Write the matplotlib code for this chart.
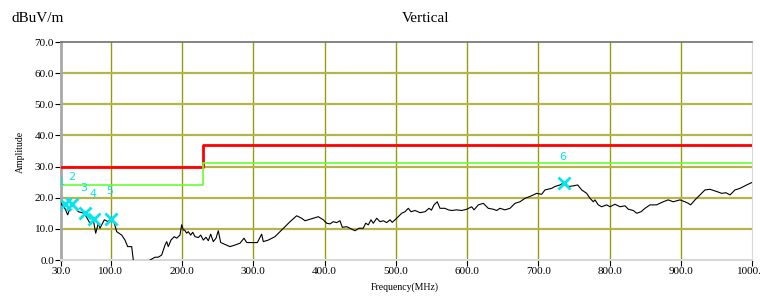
import matplotlib
matplotlib.use('Agg')
import matplotlib.pyplot as plt

plt.rcParams['font.family'] = ['Liberation Serif', 'DejaVu Serif']

# measured trace (MHz, dBuV/m)
freq = [30, 31, 35.6, 39.4, 45, 54.3, 62.7, 70.7, 75.3, 78.7, 82.4, 84.7, 90.8, 96.4, 100.2,
        104.8, 108.2, 115.2, 119.8, 123.6, 129.2, 131.5, 136, 142, 148, 155, 162, 166.6,
        171.3, 176, 178.4, 180.6, 184.4, 189, 192.4, 197, 199.4, 201.7, 203.6, 206.4, 208.7,
        212, 214.9, 218.1, 222.8, 226.1, 229.8, 233.5, 236.8, 240.1, 243.8, 247.6, 250.8,
        254.2, 260.2, 267.2, 274.2, 281.3, 286.9, 290.7, 297.7, 305.6, 311.7, 314, 321,
        330.4, 337.4, 344.4, 351.5, 360.8, 367.9, 372.5, 379.5, 391.2, 398.2, 403, 407.6,
        412.2, 417, 421.6, 424.9, 431, 438.1, 442.7, 448.3, 454.3, 457.7, 461.4, 465.2,
        468.4, 473.2, 477.8, 482.4, 487.2, 491.8, 495, 501.2, 508.2, 512.9, 517.5, 521.3,
        526.9, 534, 541, 546.6, 550, 553.6, 558.2, 562, 569, 573.7, 578.4, 585.5, 592.5,
        599.5, 606.5, 609.8, 615.8, 622.8, 629.8, 636.8, 641.6, 646.2, 653.2, 660.3, 667.3,
        674.3, 681.3, 688.3, 697.7, 704.7, 709.4, 718.8, 723.4, 730.4, 736.5, 742.1, 749.1,
        755.3, 760.9, 767.9, 772.6, 777.2, 779.6, 784.2, 789, 796, 800.6, 807.7, 814.7,
        821.7, 826.4, 833.4, 838.2, 844.2, 849.8, 856.8, 866, 875.4, 882.4, 889.4, 898.9,
        905.9, 910.5, 913.9, 920, 927, 934, 941, 950.4, 957.5, 963.5, 969.1, 976.1, 983.1,
        992.5, 1000]
level = [18.5, 17.7, 16.5, 14.5, 18.2, 15.5, 15.0, 11.8, 12.9, 8.6, 11.8, 10.2, 12.9, 12.3, 13.7,
         11.8, 9.1, 8.0, 6.4, 4.3, 4.3, 0.0, -2.0, -3.0, -1.0, 0.0, 0.9, 0.9,
         1.6, 4.8, 5.9, 4.3, 6.4, 7.5, 7.0, 8.0, 11.3, 9.6, 9.6, 8.6, 9.1,
         8.0, 8.9, 7.5, 7.2, 8.0, 6.4, 7.3, 6.2, 8.3, 5.9, 7.0, 9.4,
         5.6, 5.0, 4.3, 4.8, 5.4, 7.0, 5.6, 5.6, 5.6, 8.3, 5.9, 6.4,
         7.5, 9.1, 10.7, 12.3, 14.2, 13.4, 12.6, 13.1, 13.9, 12.9, 11.8, 11.6,
         12.3, 12.0, 12.6, 10.5, 10.7, 9.9, 9.4, 10.2, 10.2, 11.8, 11.3, 12.9,
         11.8, 13.4, 12.3, 12.6, 12.0, 12.9, 12.1, 13.4, 15.0, 15.5, 16.6, 15.5,
         15.9, 15.2, 15.5, 16.6, 16.0, 17.7, 18.7, 16.6, 16.6, 16.1, 15.9, 16.1, 15.9,
         16.3, 17.1, 16.1, 17.7, 18.2, 16.6, 16.3, 15.9, 16.6, 16.1, 16.6, 18.2,
         18.7, 19.8, 20.4, 21.4, 21.1, 22.5, 23.0, 23.6, 24.1, 24.9, 23.6, 23.8,
         24.1, 22.5, 21.4, 19.8, 18.7, 19.3, 17.7, 17.1, 17.7, 17.1, 17.9, 17.1,
         17.4, 16.3, 15.9, 15.0, 15.5, 16.6, 17.7, 17.7, 18.7, 19.3, 18.7, 19.3,
         18.7, 18.2, 17.7, 19.3, 20.9, 22.5, 22.7, 22.0, 21.4, 21.6, 20.9, 22.5, 23.0,
         24.1, 24.9]

limit_freq = [30, 230, 1000]
limit_red = [30, 37, 37]
limit_green = [24, 31, 31]

mark_freq = [35.6, 45, 63.7, 76.8, 100, 736.5]
mark_level = [18.1, 18.1, 15.1, 13.1, 13.3, 24.7]
label_freq = [30, 45, 62, 75, 98, 734]
label_level = [25, 26.5, 23.1, 21.3, 22.1, 33.2]
label_text = ['1', '2', '3', '4', '5', '6']

xticks = [30, 100, 200, 300, 400, 500, 600, 700, 800, 900, 1000]
yticks = [0, 10, 20, 30, 40, 50, 60, 70]

fig = plt.figure(figsize=(7.6, 2.96), dpi=100)
ax = fig.add_axes([61/760, 1 - 260/296, (752 - 61)/760, (260 - 42)/296])

for t in xticks[1:-1]:
    ax.axvline(t, color='#9a9a10', lw=1.0, zorder=1)
for t in yticks[1:-1]:
    ax.axhline(t, color='#b4b448', lw=1.6, zorder=1)

ax.step(limit_freq, limit_red, where='post', color='#ff0000', lw=2.0, zorder=3)
ax.step(limit_freq, limit_green, where='post', color='#66ff33', lw=1.2, zorder=3)
ax.plot(freq, level, color='black', lw=0.8, zorder=4)
ax.plot(mark_freq, mark_level, 'x', color='#00e5ee', ms=8, mew=2, zorder=5)
for fx, fy, s in zip(label_freq, label_level, label_text):
    ax.text(fx, fy, s, color='#00e5ee', fontsize=8, ha='center', va='center',
            family='DejaVu Sans', zorder=5, clip_on=True)

ax.set_xlim(30, 1000)
ax.set_ylim(0, 70)
ax.set_xticks(xticks)
ax.set_xticklabels(['%.1f' % t for t in xticks])
ax.set_yticks(yticks)
ax.set_yticklabels(['%.1f' % t for t in yticks])
ax.tick_params(labelsize=8, length=4, width=0.8, color='black', pad=1)

ax.spines['left'].set_color('#a8a8a8')
ax.spines['left'].set_linewidth(2)
ax.spines['top'].set_color('#707070')
ax.spines['top'].set_linewidth(1.2)
ax.spines['right'].set_color('#d8d8d8')
ax.spines['bottom'].set_color('#d8d8d8')
ax.spines['bottom'].set_linewidth(1.5)

fig.text(12/760, 1 - 19/296, 'dBuV/m', fontsize=11, ha='left', va='center')
fig.text(426/760, 1 - 19/296, 'Vertical', fontsize=11, ha='center', va='center')
fig.text(405/760, 1 - 287/296, 'Frequency(MHz)', fontsize=7, ha='center', va='center')
fig.text(20/760, 1 - 152/296, 'Amplitude', fontsize=7, ha='center', va='center',
         rotation=90)

fig.savefig('out.png', dpi=100)
